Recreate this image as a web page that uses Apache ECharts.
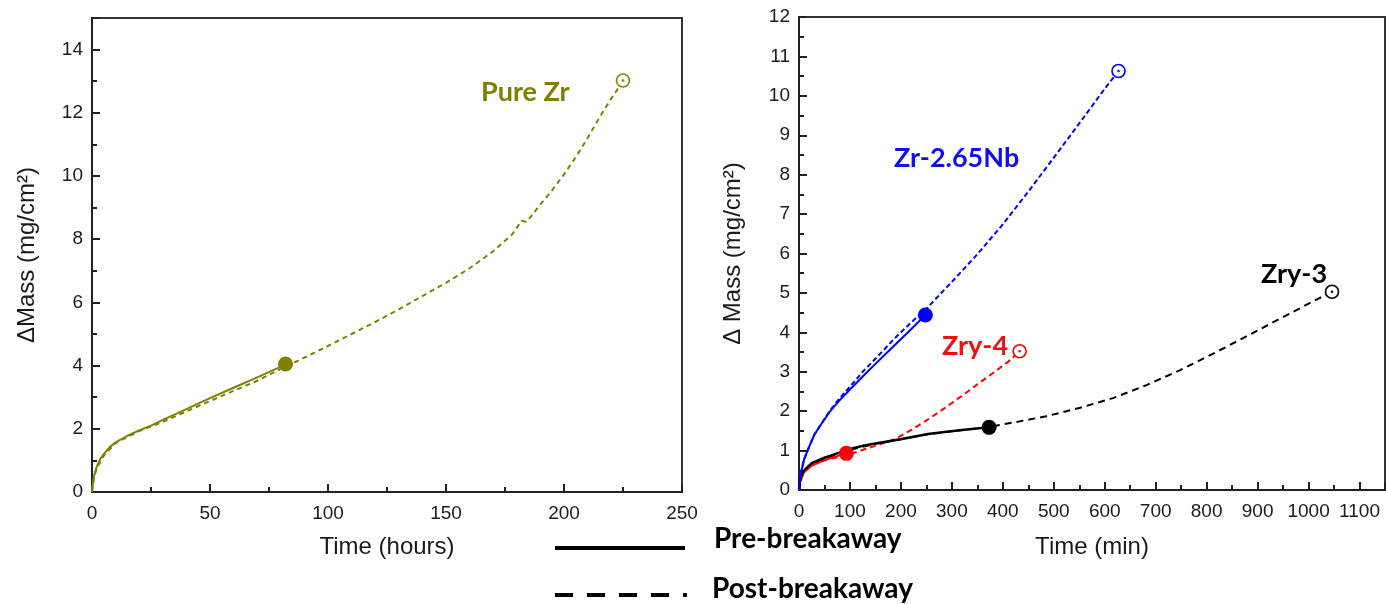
<!DOCTYPE html>
<html><head><meta charset="utf-8">
<script src="https://cdn.jsdelivr.net/npm/echarts@6/dist/echarts.min.js"></script>
<style>html,body{margin:0;padding:0;background:#fff}#c{width:1386px;height:604px}</style>
</head><body><div id="c"></div>
<script>
// ---- Left panel: Pure Zr (time in hours) ----
const pureZrPreT  = [0,0.5,1,2,3.5,5,7.5,10,15,20,25,30,40,50,60,70,82];
const pureZrPreM  = [0,0.35,0.55,0.8,1.05,1.2,1.42,1.57,1.78,1.95,2.1,2.28,2.62,2.97,3.3,3.63,4.03];
const pureZrPostT = [0,1,2,5,10,20,30,40,50,60,70,82,90,100,110,120,130,140,150,160,170,178,182,184,186,190,195,200,205,210,215,220,225];
const pureZrPostM = [0,0.5,0.75,1.15,1.55,1.93,2.22,2.55,2.88,3.2,3.52,3.97,4.25,4.62,5.0,5.38,5.78,6.2,6.62,7.08,7.62,8.15,8.58,8.55,8.72,9.1,9.55,10.05,10.6,11.2,11.85,12.45,13.0];
const pureZrBreak = [82, 4.05];
const pureZrEnd   = [225, 13.02];

// ---- Right panel: alloys (time in minutes) ----
const nbPreT  = [0,5,10,20,30,45,60,80,100,125,150,188,220,248];
const nbPreM  = [0,0.5,0.78,1.1,1.4,1.7,1.98,2.28,2.55,2.88,3.2,3.68,4.08,4.44];
const nbPostT = [0,5,10,20,30,45,60,80,100,125,150,188,220,250,300,350,400,450,500,550,600,627];
const nbPostM = [0,0.5,0.78,1.1,1.4,1.7,2.0,2.33,2.62,3.0,3.33,3.85,4.25,4.6,5.28,5.98,6.74,7.57,8.43,9.3,10.18,10.63];
const nbBreak = [248, 4.44];
const nbEnd   = [627, 10.63];

const zry4PreT  = [0,2,5,10,25,50,75,93];
const zry4PreM  = [0,0.2,0.33,0.45,0.62,0.76,0.86,0.93];
const zry4PostT = [0,5,12,31,57,93,123,150,188,220,253,285,319,350,384,410,433];
const zry4PostM = [0,0.3,0.5,0.66,0.78,0.88,1.01,1.12,1.29,1.52,1.79,2.07,2.38,2.68,3.0,3.25,3.52];
const zry4Break = [93, 0.93];
const zry4End   = [433, 3.52];

const zry3PreT  = [0,2,5,10,25,50,75,100,125,150,188,220,253,290,320,373];
const zry3PreM  = [0,0.25,0.38,0.5,0.68,0.82,0.93,1.04,1.12,1.18,1.26,1.34,1.42,1.48,1.52,1.59];
const zry3PostT = [0,5,10,25,50,100,150,200,250,300,373,420,485,550,616,680,746,810,877,940,1008,1046];
const zry3PostM = [0,0.36,0.48,0.66,0.8,1.02,1.17,1.29,1.41,1.49,1.6,1.71,1.87,2.08,2.33,2.65,3.03,3.44,3.89,4.32,4.78,5.03];
const zry3Break = [373, 1.59];
const zry3End   = [1046, 5.03];

// axis ticks
const leftXTicks  = {min:0, max:250, interval:50};
const leftYTicks  = {min:0, max:15, interval:2};
const rightXTicks = {min:0, max:1150, interval:100};
const rightYTicks = {min:0, max:12, interval:1};

const pairs = (t, m) => t.map((v, i) => [v, m[i]]);

const OLIVE = '#808000', BLUE = '#0000ff', RED = '#ff0000', BLACK = '#000000';
const AXC = '#222';
const plain = v => String(v);
const tickFont = {fontFamily:'Liberation Sans, Arial', fontSize:19, color:'#1a1a1a', formatter:plain};
const nameFont = {fontFamily:'Liberation Sans, Arial', fontSize:24, color:'#1a1a1a'};

function xAxis(grid, t, name, gap, extra) {
  return Object.assign({
    type:'value', gridIndex:grid, min:t.min, max:t.max, interval:t.interval,
    name:name, nameLocation:'middle', nameGap:gap, nameTextStyle:nameFont,
    axisLine:{show:true, onZero:false, lineStyle:{color:AXC, width:2}},
    axisTick:{show:true, inside:true, length:8, lineStyle:{color:AXC, width:2}},
    minorTick:{show:true, splitNumber:2, length:5, lineStyle:{color:AXC, width:2}},
    axisLabel:Object.assign({margin:12}, tickFont),
    splitLine:{show:false}
  }, extra || {});
}
function yAxis(grid, t, name, gap, extra) {
  return Object.assign({
    type:'value', gridIndex:grid, min:t.min, max:t.max, interval:t.interval,
    name:name, nameLocation:'middle', nameGap:gap, nameTextStyle:nameFont,
    axisLine:{show:true, onZero:false, lineStyle:{color:AXC, width:2}},
    axisTick:{show:true, inside:true, length:8, lineStyle:{color:AXC, width:2}},
    minorTick:{show:true, splitNumber:2, length:5, lineStyle:{color:AXC, width:2}},
    axisLabel:Object.assign({margin:9}, tickFont),
    splitLine:{show:false}
  }, extra || {});
}

function line(xi, data, color, dashed, width, z) {
  return {
    type:'line', xAxisIndex:xi, yAxisIndex:xi, data:data, showSymbol:false, symbol:'none',
    smooth:false, silent:true, z:z,
    lineStyle:{color:color, width:width, type: dashed ? dashed : 'solid', join:'round', cap:'butt'}
  };
}
function filled(xi, pt, color) {
  return {type:'scatter', xAxisIndex:xi, yAxisIndex:xi, data:[pt], symbolSize:15, z:10, silent:true,
    itemStyle:{color:color, opacity:1}};
}
function open(xi, pt, color) {
  return [
    {type:'scatter', xAxisIndex:xi, yAxisIndex:xi, data:[pt], symbolSize:13, z:10, silent:true,
     itemStyle:{color:'#fff', borderColor:color, borderWidth:1.6, opacity:1}},
    {type:'scatter', xAxisIndex:xi, yAxisIndex:xi, data:[pt], symbolSize:2.5, z:11, silent:true,
     itemStyle:{color:color, opacity:1}}
  ];
}

const labelFont = 'bold 27px Lato';
const legendFont = 'bold 28px Lato';
const chart = echarts.init(document.getElementById('c'), null, {renderer:'canvas'});
chart.setOption({
  animation:false,
  backgroundColor:'#fff',
  grid:[
    {left:92, top:18, width:590, height:474, show:true, borderColor:'#333', borderWidth:2, backgroundColor:'transparent'},
    {left:799, top:17, width:586, height:473, show:true, borderColor:'#333', borderWidth:2, backgroundColor:'transparent'}
  ],
  xAxis:[
    xAxis(0, leftXTicks, 'Time (hours)', 43),
    xAxis(1, rightXTicks, 'Time (min)', 45, {axisLabel:Object.assign({margin:12, showMaxLabel:false}, tickFont)})
  ],
  yAxis:[
    yAxis(0, leftYTicks, 'ΔMass (mg/cm²)', 53, {axisLabel:Object.assign({margin:9, showMaxLabel:false}, tickFont)}),
    yAxis(1, rightYTicks, 'Δ Mass (mg/cm²)', 54)
  ],
  series:[
    line(0, pairs(pureZrPostT, pureZrPostM), OLIVE, [5,4], 2, 2),
    line(0, pairs(pureZrPreT, pureZrPreM), OLIVE, null, 2, 3),
    filled(0, pureZrBreak, OLIVE),
    ...open(0, pureZrEnd, OLIVE),

    line(1, pairs(zry3PostT, zry3PostM), BLACK, [7,5], 2, 2),
    line(1, pairs(zry4PostT, zry4PostM), RED, [6,4], 2, 2),
    line(1, pairs(nbPostT, nbPostM), BLUE, [5,3], 2, 2),
    line(1, pairs(zry4PreT, zry4PreM), RED, null, 2, 3),
    line(1, pairs(zry3PreT, zry3PreM), BLACK, null, 2.5, 4),
    line(1, pairs(nbPreT, nbPreM), BLUE, null, 2, 4),
    filled(1, nbBreak, BLUE),
    filled(1, zry4Break, RED),
    filled(1, zry3Break, BLACK),
    ...open(1, nbEnd, BLUE),
    ...open(1, zry4End, RED),
    ...open(1, zry3End, BLACK)
  ],
  graphic:[
    {type:'text', left:481, top:79, style:{text:'Pure Zr', font:labelFont, fill:'#7f7f00'}},
    {type:'text', left:894, top:145, style:{text:'Zr-2.65Nb', font:labelFont, fill:'#1010ee'}},
    {type:'text', left:942, top:333, style:{text:'Zry-4', font:labelFont, fill:'#ee1010'}},
    {type:'text', left:1261, top:261, style:{text:'Zry-3', font:labelFont, fill:'#000'}},
    {type:'line', shape:{x1:555, y1:548, x2:685, y2:548}, style:{stroke:'#000', lineWidth:4}},
    {type:'line', shape:{x1:555, y1:595, x2:687, y2:595}, style:{stroke:'#000', lineWidth:4, lineDash:[18,14]}},
    {type:'text', left:714, top:525, style:{text:'Pre-breakaway', font:legendFont, fill:'#000'}},
    {type:'text', left:712, top:575, style:{text:'Post-breakaway', font:legendFont, fill:'#000'}}
  ]
});
</script></body></html>
